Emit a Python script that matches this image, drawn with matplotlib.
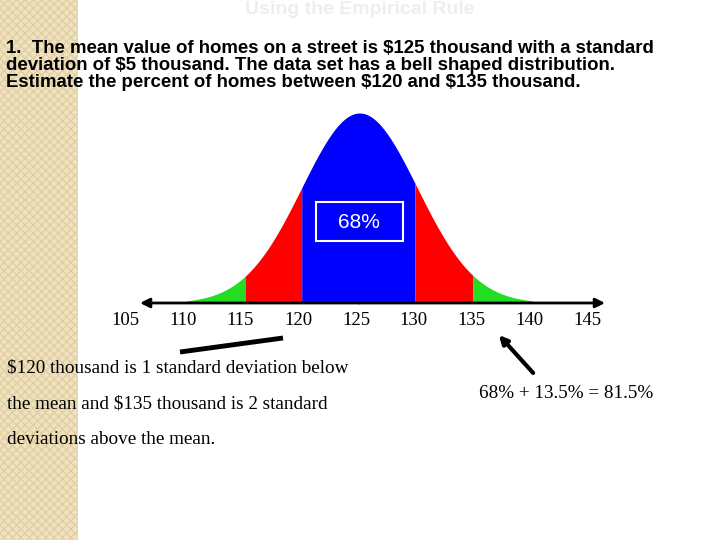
import numpy as np
import matplotlib
matplotlib.use("Agg")
import matplotlib.pyplot as plt
from matplotlib.patches import Rectangle

plt.rcParams["text.usetex"] = False
plt.rcParams["text.parse_math"] = False

mean = 125.3
sd = 5.0
tick_vals = [105, 110, 115, 120, 125, 130, 135, 140, 145]
bounds = [110.3, 115.4, 120.3, 130.1, 135.1, 140.3]
colors = ["#22dd22", "#ff0000", "#0000ff", "#ff0000", "#22dd22"]

fig = plt.figure(figsize=(7.2, 5.4), dpi=100)

# bell curve axes: px = 125 + (v-105)*11.55
x0, x1 = 105 + 15/11.55, 105 + 480/11.55
ax = fig.add_axes([140/720, (540-303)/540, 465/720, 193/540])
ax.set_zorder(1)
ax.set_xlim(x0, x1)
pk = 1/(sd*np.sqrt(2*np.pi))
ax.set_ylim(0, pk*193/190)
ax.axis("off")
for (a, b), c in zip(zip(bounds[:-1], bounds[1:]), colors):
    xs = np.linspace(a, b, 200)
    ax.fill_between(xs, 0, np.exp(-0.5*((xs-mean)/sd)**2)*pk, color=c, lw=0)
ax.annotate("", xy=(x0, 0), xytext=(mean, 0),
            arrowprops=dict(arrowstyle="-|>", color="black", lw=2, mutation_scale=14, shrinkA=0, shrinkB=0))
ax.annotate("", xy=(x1, 0), xytext=(mean, 0),
            arrowprops=dict(arrowstyle="-|>", color="black", lw=2, mutation_scale=14, shrinkA=0, shrinkB=0))
for v in tick_vals:
    ax.text(v, -0.0075, str(v), ha="center", va="center", fontsize=13.5,
            family="Liberation Serif", clip_on=False)

bg = fig.add_axes([0, 0, 1, 1])
bg.set_zorder(2)
bg.patch.set_alpha(0)
bg.set_xlim(0, 720); bg.set_ylim(540, 0); bg.axis("off")
bg.add_patch(Rectangle((0, 0), 78, 540, facecolor="#efe2c2", edgecolor="#e2cfa0",
                       hatch="xxxx", linewidth=0))
bg.text(360, 9, "Using the Empirical Rule", ha="center", va="center",
        fontsize=14, color="#eeeeee", family="Liberation Sans", fontweight="bold")
header = ("1.  The mean value of homes on a street is $125 thousand with a standard\n"
          "deviation of $5 thousand. The data set has a bell shaped distribution.\n"
          "Estimate the percent of homes between $120 and $135 thousand.")
bg.text(6, 40, header, ha="left", va="top", fontsize=13.4, fontweight="bold",
        family="Liberation Sans", linespacing=1.0)
bg.text(7, 368, "$120 thousand is 1 standard deviation below", ha="left", va="center",
        fontsize=13.8, family="Liberation Serif")
bg.text(7, 404, "the mean and $135 thousand is 2 standard", ha="left", va="center",
        fontsize=13.8, family="Liberation Serif")
bg.text(7, 440, "deviations above the mean.", ha="left", va="center",
        fontsize=13.8, family="Liberation Serif")
bg.text(566, 393, "68% + 13.5% = 81.5%", ha="center", va="center",
        fontsize=13.8, family="Liberation Serif")
bg.plot([180, 283], [352, 338], color="black", lw=3.5, solid_capstyle="butt")
bg.annotate("", xy=(497, 333), xytext=(535, 375),
            arrowprops=dict(arrowstyle="-|>", color="black", lw=3, mutation_scale=12))

bg.add_patch(Rectangle((316, 202), 87, 39, facecolor="#0000ff", edgecolor="white", lw=1.5))
bg.text(359, 222, "68%", ha="center", va="center", color="white", fontsize=15,
        family="Liberation Sans")

fig.savefig("out.png", dpi=100)
